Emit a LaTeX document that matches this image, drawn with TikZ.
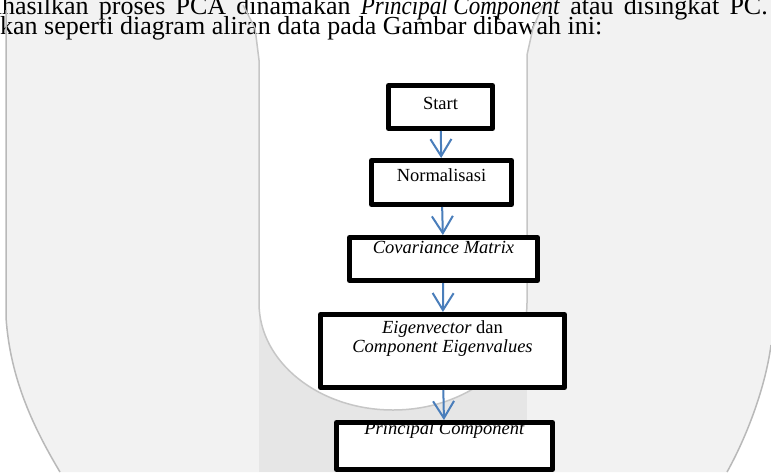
\documentclass[tikz,border=0pt]{standalone}
\usepackage{fontspec}
\usepackage{graphicx}
\setmainfont{Liberation Serif}
\usetikzlibrary{positioning, arrows.meta}

\definecolor{arrowblue}{RGB}{74,126,187}
\definecolor{pagegray}{RGB}{242,242,242}
\definecolor{foldgray}{RGB}{230,230,230}

\begin{document}
\begin{tikzpicture}[x=1pt, y=-1pt,
    box/.style={draw, fill=white, line width=5pt, line join=round, inner xsep=2pt, inner ysep=0pt,
      font=\fontsize{18.5pt}{19pt}\selectfont},
    flow/.style={draw=arrowblue, line width=2pt, -{Straight Barb[length=17pt, width=21pt]}},
    body/.style={inner sep=0pt, font=\fontsize{26pt}{26pt}\selectfont},
    edge/.style={line width=1.5pt}]
  \useasboundingbox (0,0) rectangle (771,472);
  \fill[white] (0,0) rectangle (771,472);
  % scanned page background
  \fill[pagegray] (6,0) -- (6,317) .. controls (10,380) and (35,430) .. (60,472) -- (727,472)
    .. controls (745,440) and (765,390) .. (771,345) -- (771,0) -- cycle;
  \fill[foldgray] (259,303) rectangle (527,472);
  \fill[white] (240,0) -- (255,28) -- (259,60) -- (259,303)
    arc[start angle=180, end angle=360, x radius=134pt, y radius=107pt]
    -- (527,55) -- (533,28) -- (545,0) -- cycle;

  % justified first line, cut at the top
  \node[body, anchor=base east] (l1) at (768,14)
    {\makebox[786pt][s]{dihasilkan proses PCA dinamakan \scalebox{0.885}[1]{\textit{Principal Component}} atau disingkat PC.}};
  \node[body, anchor=base west] (l2) at (0,34.5)
    {kan seperti diagram aliran data pada Gambar dibawah ini:};

  \draw[edge, gray!55] (6,10) -- (6,317) .. controls (10,380) and (35,430) .. (60,472);
  \draw[edge, gray!55] (727,472) .. controls (745,440) and (765,390) .. (771,345);
  \draw[edge, gray!45] (243,5) -- (255,28) -- (259,60) -- (259,303)
    arc[start angle=180, end angle=360, x radius=134pt, y radius=107pt]
    -- (527,55) -- (533,28) -- (543,5);

  \node[box, minimum width=104pt, text height=23.5pt, text depth=19.5pt] (start) at (440.5,107) {Start};
  \node[box, minimum width=140pt, text height=20.5pt, text depth=23.5pt, below=27pt of start, xshift=1pt] (norm) {Normalisasi};
  \node[box, minimum width=188pt, text height=15.5pt, text depth=27.5pt, below=28pt of norm, xshift=2pt] (cov) {\textit{Covariance Matrix}};
  \node[box, minimum width=244pt, text height=37.5pt, text depth=35.5pt, align=center, below=29pt of cov, xshift=-1pt] (eig)
    {\textit{Eigenvector} dan\\ \textit{Component Eigenvalues}};
  \node[box, minimum width=216pt, text height=11.5pt, text depth=35.5pt, below=30pt of eig, xshift=2pt] (pc) {\textit{Principal Component}};

  \draw[flow] (start) -- (norm);
  \draw[flow] (norm) -- (cov);
  \draw[flow] (cov) -- (eig);
  \draw[flow] (eig) -- (pc);
\end{tikzpicture}
\end{document}
